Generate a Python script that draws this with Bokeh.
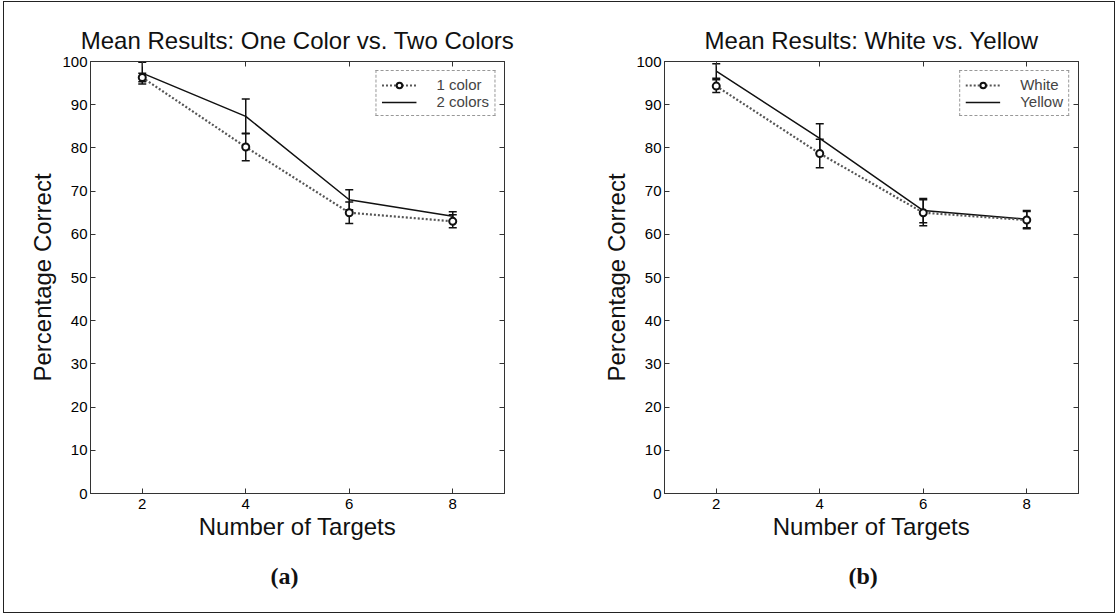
from bokeh.plotting import figure
from bokeh.models import (ColumnDataSource, Whisker, TeeHead, LinearAxis, Range1d,
                          FixedTicker, CustomJSTickFormatter, Legend, LegendItem, Title)
from bokeh.layouts import row
from bokeh.embed import file_html
from bokeh.resources import INLINE

# ---------------- data ----------------
targets = [2, 4, 6, 8]
x_ticks = [2, 4, 6, 8]
y_ticks = [0, 10, 20, 30, 40, 50, 60, 70, 80, 90, 100]

one_color = [96.3, 80.2, 65.0, 63.0]
one_color_err = [1.0, 3.2, 2.5, 1.5]
two_colors = [97.3, 87.3, 68.0, 64.2]
two_colors_err = [2.5, 4.0, 2.3, 1.0]

white = [94.3, 78.7, 65.0, 63.3]
white_err = [1.5, 3.3, 3.0, 2.0]
yellow = [97.8, 82.2, 65.5, 63.5]
yellow_err = [1.7, 3.4, 2.8, 2.0]

titles = ["Mean Results: One Color vs. Two Colors", "Mean Results: White vs. Yellow"]
panel_tags = ["(a)", "(b)"]
x_label = "Number of Targets"
y_label = "Percentage Correct"

FONT = "Liberation Sans"
AX = "#333333"
INK = "#111111"


def make_panel(title, dotted_name, dotted_vals, dotted_err, solid_name, solid_vals, solid_err,
               tag, width, left, right, tag_offset):
    p = figure(width=width, height=610, output_backend="svg", toolbar_location=None,
               x_range=Range1d(1, 9), y_range=Range1d(0, 100),
               min_border_left=left, min_border_right=right,
               min_border_top=59, min_border_bottom=119)
    p.title.text = title
    p.title.align = "center"
    p.title.text_font = FONT
    p.title.text_font_style = "normal"
    p.title.text_font_size = "24px"
    p.title.text_color = INK
    p.title.standoff = 15
    p.grid.visible = False
    p.outline_line_color = AX
    p.outline_line_width = 1

    for ax in (p.xaxis[0], p.yaxis[0]):
        ax.axis_line_color = AX
        ax.major_tick_in = 5
        ax.major_tick_out = 0
        ax.minor_tick_in = 0
        ax.minor_tick_out = 0
        ax.major_tick_line_color = AX
        ax.major_label_text_font = FONT
        ax.major_label_text_font_size = "15px"
        ax.major_label_text_color = "black"
        ax.axis_label_text_font = FONT
        ax.axis_label_text_font_style = "normal"
        ax.axis_label_text_font_size = "24px"
        ax.axis_label_text_color = INK
    p.xaxis[0].ticker = FixedTicker(ticks=x_ticks)
    p.yaxis[0].ticker = FixedTicker(ticks=y_ticks)
    p.xaxis[0].axis_label = x_label
    p.yaxis[0].axis_label = y_label
    p.xaxis[0].major_label_standoff = 5
    p.xaxis[0].axis_label_standoff = 1
    p.yaxis[0].major_label_standoff = 3
    p.yaxis[0].axis_label_standoff = 3

    blank = CustomJSTickFormatter(code="return ''")
    top = LinearAxis(ticker=FixedTicker(ticks=x_ticks), formatter=blank,
                     major_tick_in=5, major_tick_out=0, minor_tick_in=0, minor_tick_out=0,
                     axis_line_color=AX, major_tick_line_color=AX, major_label_standoff=0)
    rgt = LinearAxis(ticker=FixedTicker(ticks=y_ticks), formatter=blank,
                     major_tick_in=5, major_tick_out=0, minor_tick_in=0, minor_tick_out=0,
                     axis_line_color=AX, major_tick_line_color=AX, major_label_standoff=0)
    p.add_layout(top, "above")
    p.add_layout(rgt, "right")

    sd = ColumnDataSource(dict(x=targets, y=dotted_vals,
                               lo=[v - e for v, e in zip(dotted_vals, dotted_err)],
                               hi=[v + e for v, e in zip(dotted_vals, dotted_err)]))
    ss = ColumnDataSource(dict(x=targets, y=solid_vals,
                               lo=[v - e for v, e in zip(solid_vals, solid_err)],
                               hi=[v + e for v, e in zip(solid_vals, solid_err)]))

    r_solid = p.line("x", "y", source=ss, line_color=INK, line_width=1.5)
    r_dot = p.line("x", "y", source=sd, line_color="#555555", line_width=2.2, line_dash="2 2")
    r_mark = p.scatter("x", "y", source=sd, marker="circle", size=7,
                       fill_color="white", line_color=INK, line_width=2)

    for src in (ss, sd):
        w = Whisker(source=src, base="x", lower="lo", upper="hi", dimension="height",
                    line_color=INK, line_width=1.5,
                    upper_head=TeeHead(size=8, line_color=INK, line_width=1.5),
                    lower_head=TeeHead(size=8, line_color=INK, line_width=1.5))
        p.add_layout(w)

    legend = Legend(items=[LegendItem(label=dotted_name, renderers=[r_dot, r_mark]),
                           LegendItem(label=solid_name, renderers=[r_solid])],
                    location="top_right")
    legend.label_text_font = FONT
    legend.label_text_font_size = "15px"
    legend.label_height = 14
    legend.glyph_height = 14
    legend.glyph_width = 35
    legend.spacing = 0
    legend.padding = 5
    legend.margin = 9
    legend.label_standoff = 20
    legend.border_line_color = "#333333"
    legend.border_line_dash = "2 1"
    legend.background_fill_alpha = 1
    p.add_layout(legend)

    t = Title(text=tag, align="left", offset=tag_offset, standoff=36,
              text_font="Liberation Serif", text_font_style="bold", text_font_size="24px",
              text_color=INK)
    p.add_layout(t, "below")
    return p


p1 = make_panel(titles[0], "1 color", one_color, one_color_err, "2 colors", two_colors, two_colors_err,
                panel_tags[0], 576, 86, 76, 180)
p2 = make_panel(titles[1], "White", white, white_err, "Yellow", yellow, yellow_err,
                panel_tags[1], 534, 84, 36, 184)

layout = row(p1, p2, styles={"border": "1px solid #222", "margin-left": "3px", "margin-top": "1px"})

open("out.html", "w").write(file_html(layout, INLINE))
